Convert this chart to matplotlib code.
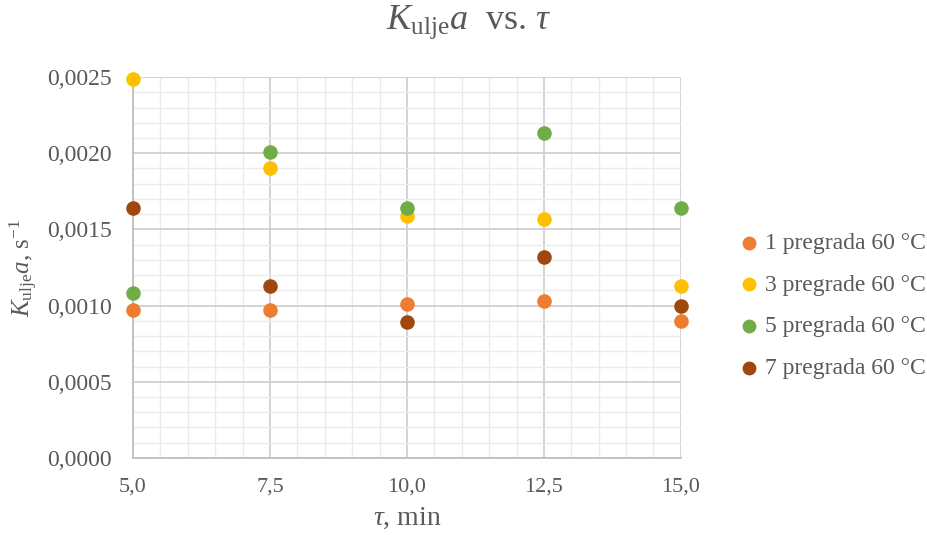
import matplotlib
matplotlib.use("Agg")
import matplotlib.pyplot as plt
from matplotlib.ticker import MultipleLocator, FuncFormatter

plt.rcParams['font.family'] = ['Liberation Serif', 'DejaVu Serif']
plt.rcParams['mathtext.fontset'] = 'custom'
plt.rcParams['mathtext.rm'] = 'Liberation Serif'
plt.rcParams['mathtext.it'] = 'Liberation Serif:italic'

tau = [5.0, 7.5, 10.0, 12.5, 15.0]
p1 = [0.00097, 0.00097, 0.00101, 0.00103, 0.00090]
p3 = [0.00249, 0.00190, 0.00159, 0.00157, 0.00113]
p5 = [0.00108, 0.00201, 0.00164, 0.00213, 0.00164]
p7 = [0.00164, 0.00113, 0.00089, 0.00132, 0.00100]

labels = ['1 pregrada 60 °C', '3 pregrade 60 °C', '5 pregrada 60 °C', '7 pregrada 60 °C']
colors = ['#ED7D31', '#FFC000', '#70AD47', '#9E480E']
series = [p1, p3, p5, p7]

text_color = '#595959'

fig = plt.figure(figsize=(9.27, 5.35), dpi=100)
ax = fig.add_axes([0.1435, 0.144, 0.591, 0.712])

for y, c, l in zip(series, colors, labels):
    ax.scatter(tau, y, s=110, color=c, label=l, zorder=3, clip_on=False, linewidths=0)

ax.set_xlim(5.0, 15.0)
ax.set_ylim(0, 0.0025)
ax.xaxis.set_major_locator(MultipleLocator(2.5))
ax.xaxis.set_minor_locator(MultipleLocator(0.5))
ax.yaxis.set_major_locator(MultipleLocator(0.0005))
ax.yaxis.set_minor_locator(MultipleLocator(0.0001))
ax.xaxis.set_major_formatter(FuncFormatter(lambda v, p: f"{v:.1f}".replace('.', ',')))
ax.yaxis.set_major_formatter(FuncFormatter(lambda v, p: f"{v:.4f}".replace('.', ',')))

ax.grid(which='major', color='#D0D0D0', linewidth=1.3, zorder=1)
ax.grid(which='minor', color='#EBEBEB', linewidth=1.0, zorder=0)
ax.set_axisbelow(True)
for s in ['top', 'right']:
    ax.spines[s].set_visible(False)
ax.spines['left'].set_color('#BFBFBF')
ax.spines['bottom'].set_color('#BFBFBF')
ax.spines['left'].set_linewidth(1.3)
ax.spines['bottom'].set_linewidth(1.3)
ax.tick_params(which='both', length=0, colors=text_color)
ax.tick_params(axis='x', pad=14, labelsize=16)
ax.tick_params(axis='y', pad=15, labelsize=17)

ax.set_xlabel(r'$\tau$, min', fontsize=20, color=text_color, labelpad=7)
ax.set_ylabel(r'$K_{\mathrm{ulje}}a$, s$^{-1}$', fontsize=18, color=text_color)
ax.yaxis.set_label_coords(-0.169, 0.5)
fig.text(0.506, 0.958, r'$K_{\mathrm{ulje}}a$  vs. $\tau$', fontsize=26, color=text_color,
         ha='center', va='center')

leg = ax.legend(loc='center left', bbox_to_anchor=(1.082, 0.40), frameon=False,
                fontsize=17, labelcolor=text_color, handletextpad=-0.35,
                labelspacing=0.85, borderaxespad=0.0, markerscale=0.95,
                borderpad=0.0)

fig.savefig('out.png', dpi=100)
